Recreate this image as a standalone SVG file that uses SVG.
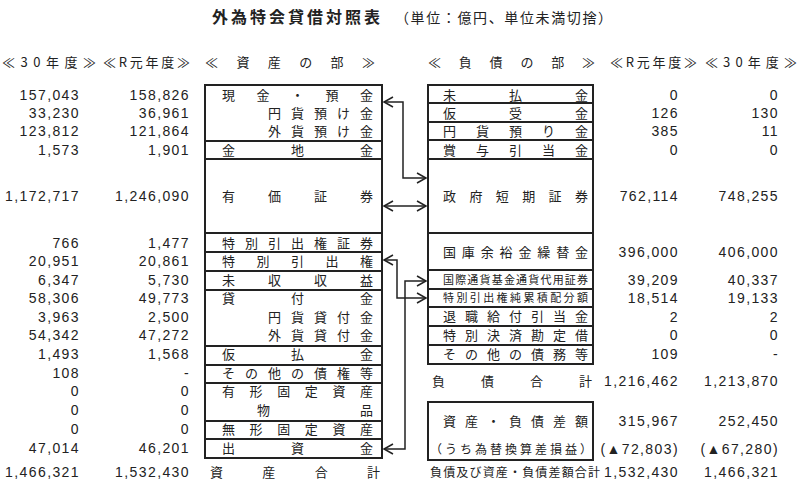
<svg xmlns="http://www.w3.org/2000/svg" width="800" height="494" viewBox="0 0 800 494">
<defs>
<style>
text{font-family:"Noto Sans CJK JP","Liberation Sans",sans-serif;font-size:13px;fill:#222}
.n{font-family:"Liberation Sans","Noto Sans CJK JP",sans-serif;text-anchor:end;font-size:14px;letter-spacing:1.4px}
.s{font-size:11px}
.b{fill:none;stroke:#222;stroke-width:2}
.c{fill:none;stroke:#222;stroke-width:1.5}
</style>
<marker id="a" markerWidth="12" markerHeight="12" refX="10" refY="6" orient="auto-start-reverse" markerUnits="userSpaceOnUse"><path d="M1,1 L10,6 L1,11" fill="none" stroke="#222" stroke-width="1.5"/></marker>
</defs>
<rect width="800" height="494" fill="#fff"/>
<g id="title">
<text x="212" y="23" style="font-size:16px;font-weight:bold" textLength="168" lengthAdjust="spacing">外為特会貸借対照表</text>
<text x="395" y="23" style="font-size:14px" textLength="217" lengthAdjust="spacing">（単位：億円、単位未満切捨）</text>
</g>
<g id="headers">
<text x="2" y="67" textLength="94" lengthAdjust="spacing">≪30年度≫</text>
<text x="103" y="67" textLength="87" lengthAdjust="spacing">≪R元年度≫</text>
<text x="205" y="67" textLength="170" lengthAdjust="spacing">≪ 資 産 の 部 ≫</text>
<text x="428" y="67" textLength="167" lengthAdjust="spacing">≪ 負 債 の 部 ≫</text>
<text x="610" y="67" textLength="87" lengthAdjust="spacing">≪R元年度≫</text>
<text x="705" y="67" textLength="92" lengthAdjust="spacing">≪30年度≫</text>
</g>
<g id="assets">
<rect class="b" x="205" y="85" width="177" height="56"/>
<rect class="b" x="205" y="141" width="177" height="18"/>
<rect class="b" x="205" y="159" width="177" height="74"/>
<rect class="b" x="205" y="233" width="177" height="19"/>
<rect class="b" x="205" y="252" width="177" height="19"/>
<rect class="b" x="205" y="271" width="177" height="19"/>
<rect class="b" x="205" y="290" width="177" height="56"/>
<rect class="b" x="205" y="346" width="177" height="19"/>
<rect class="b" x="205" y="365" width="177" height="18"/>
<rect class="b" x="205" y="383" width="177" height="38"/>
<rect class="b" x="205" y="421" width="177" height="18"/>
<rect class="b" x="205" y="439" width="177" height="19"/>
<text x="222" y="100" textLength="151" lengthAdjust="spacing">現金・預金</text>
<text x="268" y="118" textLength="105" lengthAdjust="spacing">円貨預け金</text>
<text x="268" y="136" textLength="105" lengthAdjust="spacing">外貨預け金</text>
<text x="222" y="155" textLength="151" lengthAdjust="spacing">金地金</text>
<text x="222" y="201" textLength="151" lengthAdjust="spacing">有価証券</text>
<text x="222" y="248" textLength="151" lengthAdjust="spacing">特別引出権証券</text>
<text x="222" y="266" textLength="151" lengthAdjust="spacing">特別引出権</text>
<text x="222" y="285" textLength="151" lengthAdjust="spacing">未収収益</text>
<text x="222" y="303" textLength="151" lengthAdjust="spacing">貸付金</text>
<text x="268" y="322" textLength="105" lengthAdjust="spacing">円貨貸付金</text>
<text x="268" y="340" textLength="105" lengthAdjust="spacing">外貨貸付金</text>
<text x="222" y="359" textLength="151" lengthAdjust="spacing">仮払金</text>
<text x="222" y="378" textLength="151" lengthAdjust="spacing">その他の債権等</text>
<text x="222" y="396" textLength="151" lengthAdjust="spacing">有形固定資産</text>
<text x="257" y="415" textLength="116" lengthAdjust="spacing">物品</text>
<text x="222" y="434" textLength="151" lengthAdjust="spacing">無形固定資産</text>
<text x="222" y="453" textLength="151" lengthAdjust="spacing">出資金</text>
<text x="210" y="477" textLength="170" lengthAdjust="spacing">資産合計</text>
</g>
<g id="liabilities">
<rect class="b" x="428" y="85" width="165" height="18"/>
<rect class="b" x="428" y="103" width="165" height="19"/>
<rect class="b" x="428" y="122" width="165" height="18"/>
<rect class="b" x="428" y="140" width="165" height="19"/>
<rect class="b" x="428" y="159" width="165" height="74"/>
<rect class="b" x="428" y="233" width="165" height="37"/>
<rect class="b" x="428" y="270" width="165" height="19"/>
<rect class="b" x="428" y="289" width="165" height="18"/>
<rect class="b" x="428" y="307" width="165" height="19"/>
<rect class="b" x="428" y="326" width="165" height="19"/>
<rect class="b" x="428" y="345" width="165" height="19"/>
<rect class="b" x="428" y="402" width="165" height="58"/>
<text x="443" y="100" textLength="145" lengthAdjust="spacing">未払金</text>
<text x="443" y="118" textLength="145" lengthAdjust="spacing">仮受金</text>
<text x="443" y="136" textLength="145" lengthAdjust="spacing">円貨預り金</text>
<text x="443" y="155" textLength="145" lengthAdjust="spacing">賞与引当金</text>
<text x="443" y="201" textLength="145" lengthAdjust="spacing">政府短期証券</text>
<text x="443" y="257" textLength="145" lengthAdjust="spacing">国庫余裕金繰替金</text>
<text class="s" x="443" y="284" textLength="145" lengthAdjust="spacing">国際通貨基金通貨代用証券</text>
<text class="s" x="443" y="302" textLength="145" lengthAdjust="spacing">特別引出権純累積配分額</text>
<text x="443" y="321" textLength="145" lengthAdjust="spacing">退職給付引当金</text>
<text x="443" y="340" textLength="145" lengthAdjust="spacing">特別決済勘定借</text>
<text x="443" y="359" textLength="145" lengthAdjust="spacing">その他の債務等</text>
<text x="432" y="386" textLength="160" lengthAdjust="spacing">負債合計</text>
<text x="443" y="426" textLength="145" lengthAdjust="spacing">資産・負債差額</text>
<text x="430" y="454" style="font-size:12px" textLength="162" lengthAdjust="spacing">（うち為替換算差損益）</text>
<text x="430" y="477" style="font-size:12px" textLength="170" lengthAdjust="spacing">負債及び資産・負債差額合計</text>
</g>
<g id="left-values">
<text class="n" x="80" y="100">157,043</text><text class="n" x="190" y="100">158,826</text>
<text class="n" x="80" y="118">33,230</text><text class="n" x="190" y="118">36,961</text>
<text class="n" x="80" y="136">123,812</text><text class="n" x="190" y="136">121,864</text>
<text class="n" x="80" y="155">1,573</text><text class="n" x="190" y="155">1,901</text>
<text class="n" x="80" y="201">1,172,717</text><text class="n" x="190" y="201">1,246,090</text>
<text class="n" x="80" y="248">766</text><text class="n" x="190" y="248">1,477</text>
<text class="n" x="80" y="266">20,951</text><text class="n" x="190" y="266">20,861</text>
<text class="n" x="80" y="285">6,347</text><text class="n" x="190" y="285">5,730</text>
<text class="n" x="80" y="303">58,306</text><text class="n" x="190" y="303">49,773</text>
<text class="n" x="80" y="322">3,963</text><text class="n" x="190" y="322">2,500</text>
<text class="n" x="80" y="340">54,342</text><text class="n" x="190" y="340">47,272</text>
<text class="n" x="80" y="359">1,493</text><text class="n" x="190" y="359">1,568</text>
<text class="n" x="80" y="378">108</text><text class="n" x="190" y="378">-</text>
<text class="n" x="80" y="396">0</text><text class="n" x="190" y="396">0</text>
<text class="n" x="80" y="415">0</text><text class="n" x="190" y="415">0</text>
<text class="n" x="80" y="434">0</text><text class="n" x="190" y="434">0</text>
<text class="n" x="80" y="453">47,014</text><text class="n" x="190" y="453">46,201</text>
<text class="n" x="80" y="477">1,466,321</text><text class="n" x="190" y="477">1,532,430</text>
</g>
<g id="right-values">
<text class="n" x="679" y="100">0</text><text class="n" x="779" y="100">0</text>
<text class="n" x="679" y="118">126</text><text class="n" x="779" y="118">130</text>
<text class="n" x="679" y="136">385</text><text class="n" x="779" y="136">11</text>
<text class="n" x="679" y="155">0</text><text class="n" x="779" y="155">0</text>
<text class="n" x="679" y="201">762,114</text><text class="n" x="779" y="201">748,255</text>
<text class="n" x="679" y="257">396,000</text><text class="n" x="779" y="257">406,000</text>
<text class="n" x="679" y="285">39,209</text><text class="n" x="779" y="285">40,337</text>
<text class="n" x="679" y="303">18,514</text><text class="n" x="779" y="303">19,133</text>
<text class="n" x="679" y="322">2</text><text class="n" x="779" y="322">2</text>
<text class="n" x="679" y="340">0</text><text class="n" x="779" y="340">0</text>
<text class="n" x="679" y="359">109</text><text class="n" x="779" y="359">-</text>
<text class="n" x="679" y="386">1,216,462</text><text class="n" x="779" y="386">1,213,870</text>
<text class="n" x="679" y="426">315,967</text><text class="n" x="779" y="426">252,450</text>
<text class="n" x="679" y="454">(▲72,803)</text><text class="n" x="779" y="454">(▲67,280)</text>
<text class="n" x="679" y="477">1,532,430</text><text class="n" x="779" y="477">1,466,321</text>
</g>
<g id="connectors">
<polyline class="c" points="384,102 403,102 403,178 426,178" marker-start="url(#a)" marker-end="url(#a)"/>
<line class="c" x1="384" y1="206" x2="426" y2="206" marker-start="url(#a)" marker-end="url(#a)"/>
<polyline class="c" points="384,260 397,260 397,298 426,298" marker-start="url(#a)" marker-end="url(#a)"/>
<polyline class="c" points="384,449 405,449 405,281 426,281" marker-start="url(#a)" marker-end="url(#a)"/>
</g>
</svg>
